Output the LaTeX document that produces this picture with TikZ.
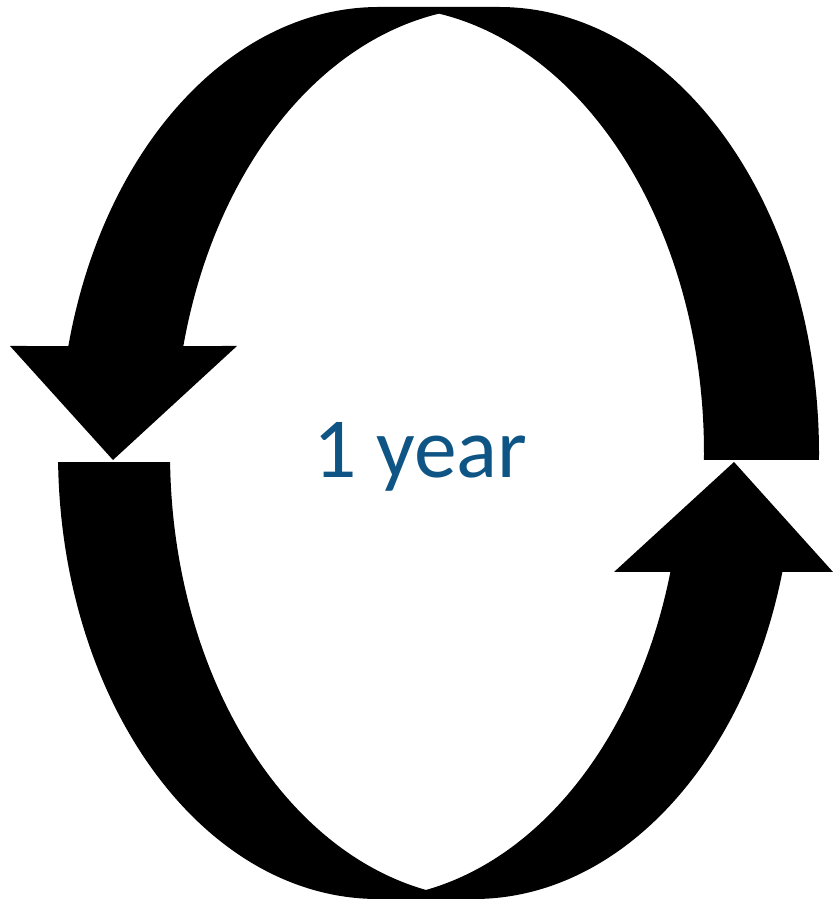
\documentclass[tikz,border=0pt]{standalone}
\usepackage{fontspec}
\setmainfont{Carlito}
\definecolor{yearblue}{HTML}{0E5485}
\usepackage{tikz}
\usetikzlibrary{calc}
\tikzset{
	arrowband/.style={
			fill=black,
			draw=none
		},
	bandarc/.style={
			x radius=320,
			y radius=446
		},
	yearlabel/.style={
			text=yearblue,
			font=\fontsize{73}{88}\selectfont,
			inner sep=0pt,
			anchor=base
		}
}

\begin{document}
\begin{tikzpicture}[x=0.3mm,y=0.3mm]
\useasboundingbox (0,0) rectangle (833,903);

% upper arrow, runs over the top and points down on the left
\fill[arrowband] ($(499,450)+(-0.9:320 and 446)$)
	arc[start angle=-0.9, end angle=90, bandarc] -- (379,896)
	arc[start angle=90, end angle=166.12, bandarc]
	-- (10,557) -- (113,443) -- (237,557)
	-- ($(494,450)+(166.12:320 and 446)$)
	arc[start angle=166.12, end angle=99.9, bandarc]
	-- ($(384,450)+(80.1:320 and 446)$)
	arc[start angle=80.1, end angle=-0.9, bandarc] -- cycle;

% lower arrow, runs under the bottom and points up on the right
\fill[arrowband] ($(378,450)+(181.16:320 and 446)$)
	arc[start angle=181.16, end angle=270, bandarc] -- (474,4)
	arc[start angle=270, end angle=344.53, bandarc]
	-- (833,331) -- (734,441) -- (614,331)
	-- ($(362,450)+(344.53:320 and 446)$)
	arc[start angle=344.53, end angle=281.1, bandarc]
	-- ($(490,450)+(258.9:320 and 446)$)
	arc[start angle=258.9, end angle=181.16, bandarc] -- cycle;

\node[yearlabel] (period) at (420.5,425) {1 year};

\end{tikzpicture}
\end{document}
